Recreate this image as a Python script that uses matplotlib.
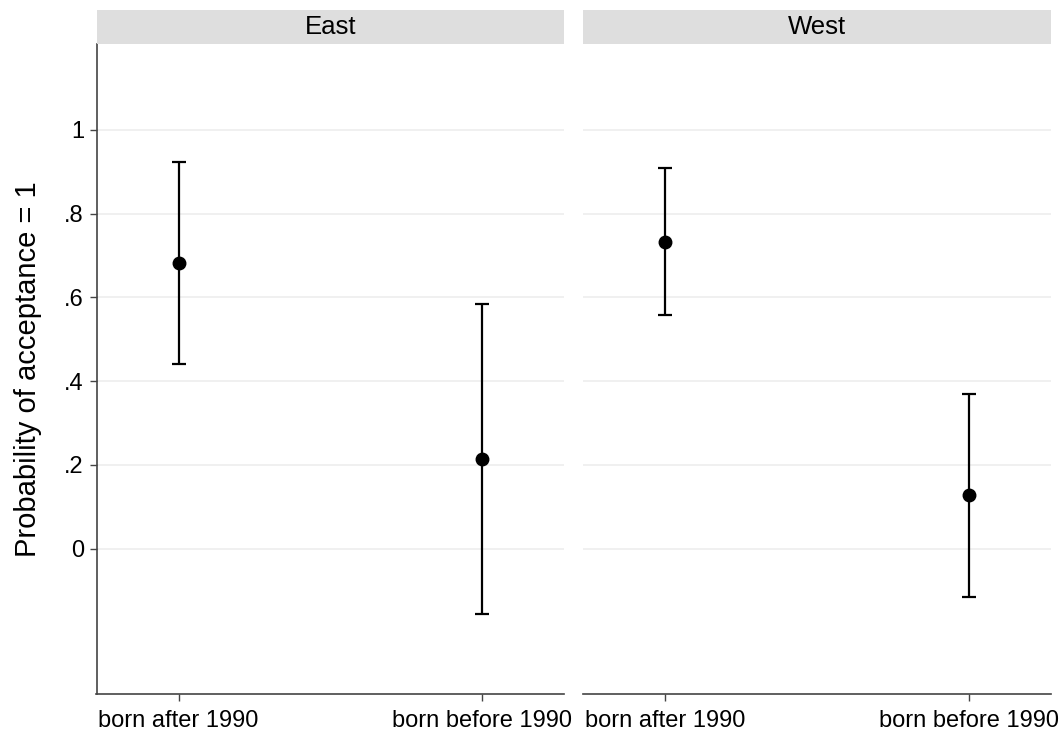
import matplotlib.pyplot as plt
import numpy as np

plt.rcParams['font.family'] = ['Liberation Sans', 'DejaVu Sans']

# Data
panels = ['East', 'West']
groups = ['born after 1990', 'born before 1990']
estimates = {
    'East': [0.681, 0.214],
    'West': [0.733, 0.127],
}
ci_low = {
    'East': [0.440, -0.156],
    'West': [0.557, -0.115],
}
ci_high = {
    'East': [0.922, 0.585],
    'West': [0.908, 0.369],
}
yticks = [0, 0.2, 0.4, 0.6, 0.8, 1.0]
ytick_labels = ['0', '.2', '.4', '.6', '.8', '1']

fig = plt.figure(figsize=(10.64, 7.35), dpi=100)
lefts = [96.5 / 1064, 583.3 / 1064]
width = 467.8 / 1064
bottom = 40.7 / 735
height = 650.0 / 735
strip_h = 34.3 / 735

x = np.arange(len(groups))
for i, (panel, left) in enumerate(zip(panels, lefts)):
    ax = fig.add_axes([left, bottom, width, height])
    est = np.array(estimates[panel])
    lo = np.array(ci_low[panel])
    hi = np.array(ci_high[panel])
    ax.errorbar(x, est, yerr=[est - lo, hi - est], fmt='o', color='black',
                markersize=9, elinewidth=1.6, capsize=4.8, capthick=1.6, zorder=3)
    ax.set_xlim(-0.27, 1.27)
    ax.set_ylim(-0.348, 1.204)
    ax.set_yticks(yticks)
    ax.grid(axis='y', color='#eeeeee', linewidth=1.2, zorder=0)
    ax.set_axisbelow(True)
    ax.set_xticks(x)
    ax.set_xticklabels(groups, fontsize=17)
    for s in ['top', 'right']:
        ax.spines[s].set_visible(False)
    ax.spines['bottom'].set_color('#444444')
    ax.spines['bottom'].set_linewidth(1.2)
    ax.tick_params(axis='x', length=5, width=1, color='#444444', pad=6)
    if i == 0:
        ax.set_yticklabels(ytick_labels, fontsize=17)
        ax.spines['left'].set_color('#444444')
        ax.spines['left'].set_linewidth(1.2)
        ax.tick_params(axis='y', length=5, width=1, color='#444444', pad=4)
        ax.set_ylabel('Probability of acceptance = 1', fontsize=21, labelpad=16)
    else:
        ax.spines['left'].set_visible(False)
        ax.tick_params(axis='y', left=False, labelleft=False)

    # facet strip
    sax = fig.add_axes([left, bottom + height, width, strip_h])
    sax.set_facecolor('#dedede')
    sax.set_xticks([])
    sax.set_yticks([])
    for s in sax.spines.values():
        s.set_visible(False)
    sax.text(0.5, 0.5, panel, ha='center', va='center', fontsize=18.5,
             transform=sax.transAxes)

fig.savefig('out.png', dpi=100, facecolor='white')
